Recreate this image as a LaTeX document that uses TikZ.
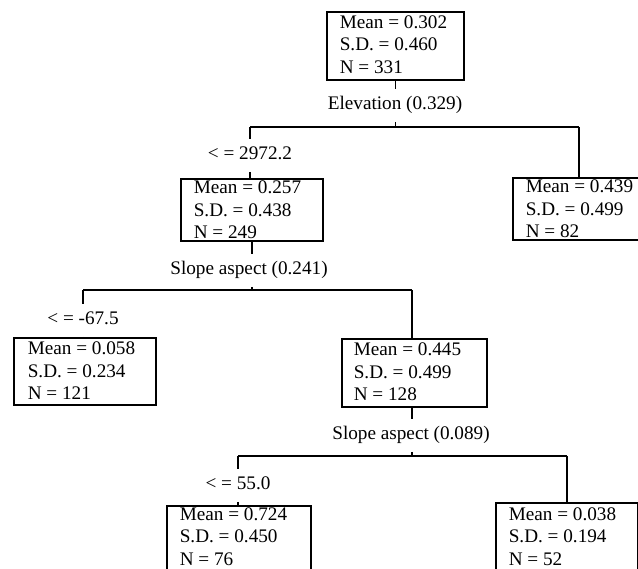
\documentclass[tikz,border=0pt]{standalone}
\usepackage{fontspec}
\setmainfont{Liberation Serif}
\begin{document}
\begin{tikzpicture}[x=1pt,y=1pt,line width=1.6pt,
  box/.style={draw, line width=1.6pt, inner sep=0pt, anchor=north west, minimum width=142pt},
  stat/.style={inner sep=0pt, anchor=base west, font=\fontsize{19.2}{22.5}\selectfont},
  lab/.style={inner xsep=2pt, inner ysep=7pt, text height=13pt, text depth=4pt, anchor=base, font=\fontsize{19.2}{22.5}\selectfont}]
\useasboundingbox (0,0) rectangle (638,-569);
\clip (0,0) rectangle (638,-569);
% boxes
\node[box, minimum width=137pt, minimum height=68pt] (n0) at (326,-11) {};
\node[box, minimum height=62pt] (n1) at (180,-178) {};
\node[box, minimum height=62pt] (n2) at (512,-177) {};
\node[box, minimum height=67pt] (n3) at (13,-337) {};
\node[box, minimum width=145pt, minimum height=68pt] (n4) at (341,-338) {};
\node[box, minimum width=144pt, minimum height=68pt] (n5) at (166,-505) {};
\node[box, minimum height=68pt] (n6) at (495,-502) {};
% box texts
\node[stat] (t0) at (339,-28.5) {\begin{tabular}[t]{@{}l@{}}Mean = 0.302\\S.D. = 0.460\\N = 331\end{tabular}};
\node[stat] (t1) at (193,-194) {\begin{tabular}[t]{@{}l@{}}Mean = 0.257\\S.D. = 0.438\\N = 249\end{tabular}};
\node[stat] (t2) at (525,-193) {\begin{tabular}[t]{@{}l@{}}Mean = 0.439\\S.D. = 0.499\\N = 82\end{tabular}};
\node[stat] (t3) at (27,-355) {\begin{tabular}[t]{@{}l@{}}Mean = 0.058\\S.D. = 0.234\\N = 121\end{tabular}};
\node[stat] (t4) at (353,-356) {\begin{tabular}[t]{@{}l@{}}Mean = 0.445\\S.D. = 0.499\\N = 128\end{tabular}};
\node[stat] (t5) at (179,-520.5) {\begin{tabular}[t]{@{}l@{}}Mean = 0.724\\S.D. = 0.450\\N = 76\end{tabular}};
\node[stat] (t6) at (508,-520.5) {\begin{tabular}[t]{@{}l@{}}Mean = 0.038\\S.D. = 0.194\\N = 52\end{tabular}};
% split labels
\node[lab] (e0) at (395,-110) {Elevation (0.329)};
\node[lab] (c1) at (250,-160) {< = 2972.2};
\node[lab] (e1) at (249,-275) {Slope aspect (0.241)};
\node[lab] (c2) at (83,-325) {< = -67.5};
\node[lab] (e2) at (411,-440) {Slope aspect (0.089)};
\node[lab] (c3) at (238,-490) {< = 55.0};
% bars
\coordinate (b0l) at (250,-127);
\coordinate (b0r) at (579,-127);
\coordinate (b1l) at (83,-290);
\coordinate (b1r) at (412,-290);
\coordinate (b2l) at (238,-456);
\coordinate (b2r) at (567,-456);
% connectors
\draw (n0.south) -- (n0.south |- e0.north);
\draw (n0.south |- e0.south) -- (n0.south |- b0l);
\draw (b0l) -- (b0r);
\draw (b0l) -- (b0l |- c1.north);
\draw (b0l |- c1.south) -- (b0l |- n1.north);
\draw (b0r) -- (b0r |- n2.north);
\draw (n1.south) -- (n1.south |- e1.north);
\draw (n1.south |- e1.south) -- (n1.south |- b1l);
\draw (b1l) -- (b1r);
\draw (b1l) -- (b1l |- c2.north);
\draw (b1l |- c2.south) -- (b1l |- n3.north);
\draw (b1r) -- (b1r |- n4.north);
\draw (b1r |- n4.south) -- (b1r |- e2.north);
\draw (b1r |- e2.south) -- (b1r |- b2l);
\draw (b2l) -- (b2r);
\draw (b2l) -- (b2l |- c3.north);
\draw (b2l |- c3.south) -- (b2l |- n5.north);
\draw (b2r) -- (b2r |- n6.north);
\end{tikzpicture}
\end{document}
